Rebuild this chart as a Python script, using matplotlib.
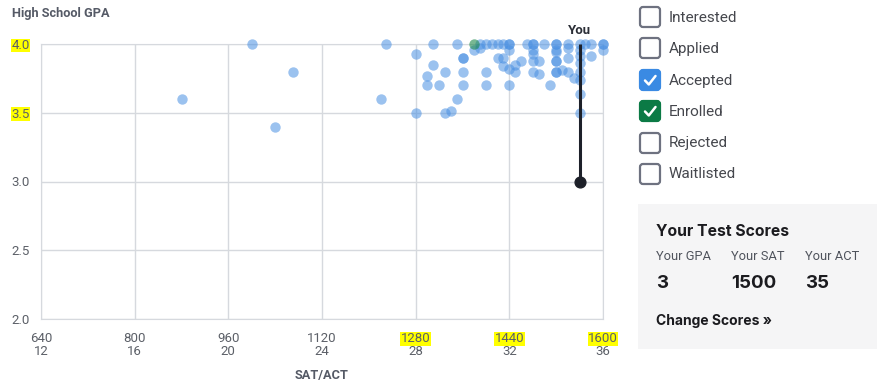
import matplotlib
matplotlib.use("Agg")
import matplotlib.pyplot as plt
from matplotlib.patches import FancyBboxPatch, Rectangle

plt.rcParams['font.family'] = ['Roboto', 'DejaVu Sans']

# ---------------- data ----------------
accepted_sat = [880, 1000, 1070, 1040, 1220, 1230,
                1280, 1280, 1310, 1310, 1350, 1350,
                1390, 1400, 1410, 1420, 1430, 1440, 1440,
                1380, 1390, 1360, 1360, 1420, 1430, 1430,
                1300, 1330, 1360, 1400,
                1300, 1320, 1360, 1400, 1440,
                1330, 1340, 1440, 1450, 1450,
                1470, 1480, 1480, 1500, 1520, 1520, 1540, 1560, 1570, 1580, 1600, 1600, 1600,
                1440, 1480, 1520,
                1460, 1480, 1480, 1490, 1520, 1520, 1520, 1540, 1540, 1560, 1560, 1560, 1580,
                1480, 1490, 1520, 1520, 1530, 1540, 1560, 1550, 1560,
                1510, 1560, 1560]
accepted_gpa = [3.6, 4.0, 3.8, 3.4, 3.6, 4.0,
                3.93, 3.5, 4.0, 3.85, 4.0, 3.6,
                4.0, 4.0, 4.0, 4.0, 4.0, 4.0, 4.0,
                3.96, 3.97, 3.9, 3.9, 3.9, 3.9, 3.84,
                3.77, 3.8, 3.8, 3.8,
                3.7, 3.7, 3.7, 3.7, 3.7,
                3.5, 3.51, 3.82, 3.85, 3.8,
                4.0, 4.0, 4.0, 4.0, 4.0, 4.0, 4.0, 4.0, 4.0, 4.0, 4.0, 4.0, 3.96,
                3.96, 3.96, 3.96,
                3.88, 3.93, 3.88, 3.88, 3.94, 3.88, 3.88, 3.97, 3.9, 3.96, 3.91, 3.86, 3.91,
                3.8, 3.78, 3.8, 3.8, 3.81, 3.8, 3.8, 3.75, 3.74,
                3.7, 3.64, 3.5]
enrolled_sat = [1380]
enrolled_gpa = [4.0]

you_sat = 1560
you_gpa = 3.0
your_gpa_txt = "3"
your_sat_txt = "1500"
your_act_txt = "35"

sat_ticks = [640, 800, 960, 1120, 1280, 1440, 1600]
act_ticks = [12, 16, 20, 24, 28, 32, 36]
sat_marked = [1280, 1440, 1600]
gpa_ticks = [2.0, 2.5, 3.0, 3.5, 4.0]
gpa_marked = [3.5, 4.0]

filters = ["Interested", "Applied", "Accepted", "Enrolled", "Rejected", "Waitlisted"]
filter_colors = {"Accepted": "#3a8ae3", "Enrolled": "#0b7a45"}

W, H = 883, 387
fig = plt.figure(figsize=(W / 100, H / 100), dpi=100)
ax = fig.add_axes([41 / W, 68 / H, 562 / W, 275 / H])

grid_c = "#d6d9de"
tick_c = "#5c6068"

ax.scatter(accepted_sat, accepted_gpa, s=56, color="#4a90e2", alpha=0.55,
           linewidths=0, zorder=3, clip_on=False)
ax.scatter(enrolled_sat, enrolled_gpa, s=56, color="#1e8a4c", alpha=0.6,
           linewidths=0, zorder=3, clip_on=False)

ax.plot([you_sat, you_sat], [you_gpa, 4.0], color="#1d2029", lw=2.2, zorder=4,
        solid_capstyle="butt", clip_on=False)
ax.scatter([you_sat], [you_gpa], s=60, color="#1d2029", zorder=5, clip_on=False)
ax.annotate("You", (you_sat, 4.0), xytext=(0, 5), textcoords="offset points",
            ha="center", va="bottom", fontsize=9.5, fontweight="bold", color="#2b2e36")

ax.set_xlim(640, 1600)
ax.set_ylim(2.0, 4.0)
ax.set_xticks(sat_ticks)
ax.set_yticks(gpa_ticks)
ax.set_xticklabels([str(v) for v in sat_ticks])
ax.set_yticklabels(["%.1f" % v for v in gpa_ticks])
ax.tick_params(axis="both", length=0, labelsize=9.5, labelcolor=tick_c)
ax.tick_params(axis="x", pad=9.5)
ax.tick_params(axis="y", pad=8)
ax.grid(True, color=grid_c, lw=1)
ax.set_axisbelow(True)
for sp in ax.spines.values():
    sp.set_color(grid_c)

for lab, v in zip(ax.get_xticklabels(), sat_ticks):
    if v in sat_marked:
        lab.set_bbox(dict(facecolor="#ffff00", edgecolor="none", pad=0.3))
for lab, v in zip(ax.get_yticklabels(), gpa_ticks):
    if v in gpa_marked:
        lab.set_bbox(dict(facecolor="#ffff00", edgecolor="none", pad=0.3))

for s, a in zip(sat_ticks, act_ticks):
    ax.annotate(str(a), (s, 0), xycoords=ax.get_xaxis_transform(),
                xytext=(0, -18.5), textcoords="offset points", ha="center", va="top",
                fontsize=9.5, color=tick_c)

# ---------------- overlay in pixel coords ----------------
ov = fig.add_axes([0, 0, 1, 1], zorder=-1)
ov.set_xlim(0, W)
ov.set_ylim(H, 0)
ov.axis("off")

ov.text(12, 13, "High School GPA", fontsize=9.2, fontweight="bold", color="#555a66",
        va="center", ha="left")
ov.text(322, 375, "SAT/ACT", fontsize=9.2, fontweight="bold", color="#555a66",
        va="center", ha="center")

row_y = [17, 48, 80, 111, 143, 174]
for name, yc in zip(filters, row_y):
    fc = filter_colors.get(name)
    box = FancyBboxPatch((640, yc - 10), 20, 20,
                         boxstyle="round,pad=0,rounding_size=3",
                         facecolor=fc if fc else "white",
                         edgecolor=fc if fc else "#6e7280", lw=1.6)
    ov.add_patch(box)
    if fc:
        ov.plot([645, 648.8, 655.5], [yc + 0.5, yc + 4.5, yc - 4], color="white",
                lw=1.8, solid_capstyle="round", solid_joinstyle="round")
    ov.text(669, yc + 0.5, name, fontsize=11, color="#45474d", va="center", ha="left")

ov.add_patch(Rectangle((638, 204), 239, 145, facecolor="#f5f5f6", edgecolor="none"))
ov.text(656, 231, "Your Test Scores", fontsize=11.3, fontweight="bold", color="#1b1b1f",
        va="center", ha="left", family=["Inter", "DejaVu Sans"])
for xc, lab, val in zip([656, 731, 805], ["Your GPA", "Your SAT", "Your ACT"],
                        [your_gpa_txt, your_sat_txt, your_act_txt]):
    ov.text(xc, 257, lab, fontsize=9.3, color="#4f535c", va="center", ha="left")
    ov.text(xc, 284, val, fontsize=13.5, fontweight="bold", color="#1b1b1f",
            va="center", ha="left", family=["Inter", "DejaVu Sans"])
ov.text(656, 321, "Change Scores \u00bb", fontsize=10, fontweight="bold", color="#1b1b1f",
        va="center", ha="left", family=["Inter", "DejaVu Sans"])

fig.savefig("out.png", dpi=100)
